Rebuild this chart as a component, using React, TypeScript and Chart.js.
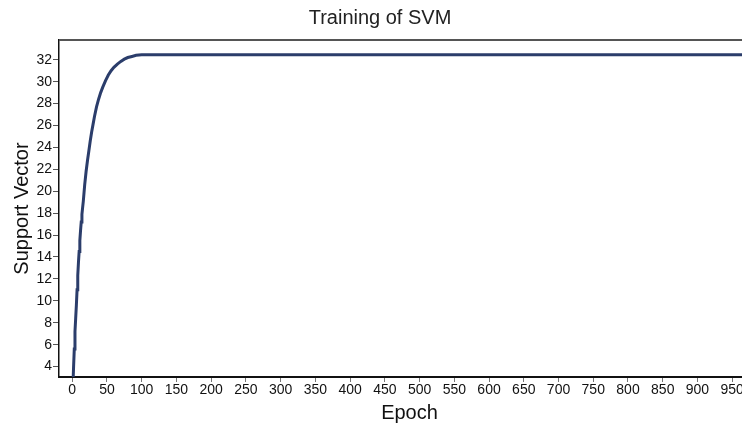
import { useEffect, useRef } from "react";
import { Chart, registerables } from "chart.js";
Chart.register(...registerables);

const epochs = [1, 2, 3, 4, 5, 6, 7, 8, 9, 10, 11, 12, 13, 14, 15, 16, 18, 20, 22, 24, 26, 28, 30, 32, 35, 38, 41, 44, 48, 52, 56, 60, 65, 70, 75, 80, 86, 92, 100, 990];
const supportVectors = [2.2, 4.0, 5.6, 7.2, 8.4, 9.6, 11.0, 12.3, 13.5, 14.5, 15.5, 16.4, 17.2, 17.9, 18.5, 19.1, 20.6, 21.8, 22.8, 23.7, 24.6, 25.4, 26.1, 26.8, 27.7, 28.4, 29.0, 29.5, 30.1, 30.6, 31.0, 31.3, 31.6, 31.85, 32.05, 32.2, 32.3, 32.4, 32.45, 32.45];
const xTickValues = [0, 50, 100, 150, 200, 250, 300, 350, 400, 450, 500, 550, 600, 650, 700, 750, 800, 850, 900, 950];
const yTickValues = [4, 6, 8, 10, 12, 14, 16, 18, 20, 22, 24, 26, 28, 30, 32];

const FONT = '"Liberation Sans", Arial, sans-serif';

export default function App() {
  const ref = useRef<HTMLCanvasElement>(null);
  useEffect(() => {
    document.body.style.margin = "0";
    const topBorder = {
      id: "topBorder",
      afterDraw(chart: any) {
        const { ctx, chartArea } = chart;
        ctx.save();
        ctx.strokeStyle = "#555";
        ctx.lineWidth = 2;
        ctx.beginPath();
        ctx.moveTo(chartArea.left, chartArea.top);
        ctx.lineTo(chartArea.right, chartArea.top);
        ctx.stroke();
        ctx.restore();
      },
    };
    const chart = new Chart(ref.current as HTMLCanvasElement, {
      type: "line",
      data: {
        datasets: [
          {
            data: epochs.map((e, i) => ({ x: e, y: supportVectors[i] })),
            borderColor: "#2b3d6b",
            borderWidth: 3,
            pointRadius: 0,
            tension: 0,
          },
        ],
      },
      options: {
        animation: false,
        responsive: false,
        maintainAspectRatio: false,
        layout: { padding: 0 },
        plugins: {
          legend: { display: false },
          tooltip: { enabled: false },
          title: {
            display: true,
            text: "Training of SVM",
            font: { family: FONT, size: 20, weight: "normal" },
            color: "#222",
            padding: { top: 6, bottom: 10 },
          },
        },
        scales: {
          x: {
            type: "linear",
            min: -19,
            max: 990,
            afterBuildTicks: (s: any) => {
              s.ticks = xTickValues.map((v) => ({ value: v }));
            },
            afterFit: (s: any) => {
              s.height = 48;
            },
            grid: { display: true, drawOnChartArea: false, drawTicks: true, tickLength: 5, color: "#777" },
            border: { display: true, color: "#111", width: 2 },
            ticks: { font: { family: FONT, size: 14 }, color: "#111", padding: 0, maxRotation: 0, autoSkip: false },
            title: {
              display: true,
              text: "Epoch",
              font: { family: FONT, size: 20 },
              color: "#111",
              padding: { top: 0, bottom: 0 },
            },
          },
          y: {
            type: "linear",
            min: 3.05,
            max: 33.8,
            afterBuildTicks: (s: any) => {
              s.ticks = yTickValues.map((v) => ({ value: v }));
            },
            afterFit: (s: any) => {
              s.width = 59;
            },
            grid: { display: true, drawOnChartArea: false, drawTicks: true, tickLength: 6, color: "#555" },
            border: { display: true, color: "#111", width: 1.5 },
            ticks: { font: { family: FONT, size: 14 }, color: "#111", padding: 1, autoSkip: false },
            title: {
              display: true,
              text: "Support Vector",
              font: { family: FONT, size: 20 },
              color: "#111",
              padding: { top: 10, bottom: 2 },
            },
          },
        },
      },
      plugins: [topBorder],
    });
    return () => chart.destroy();
  }, []);
  return (
    <div style={{ position: "relative", width: 742, height: 425, overflow: "hidden" }}>
      <canvas ref={ref} width={760} height={425} style={{ display: "block" }} />
    </div>
  );
}
